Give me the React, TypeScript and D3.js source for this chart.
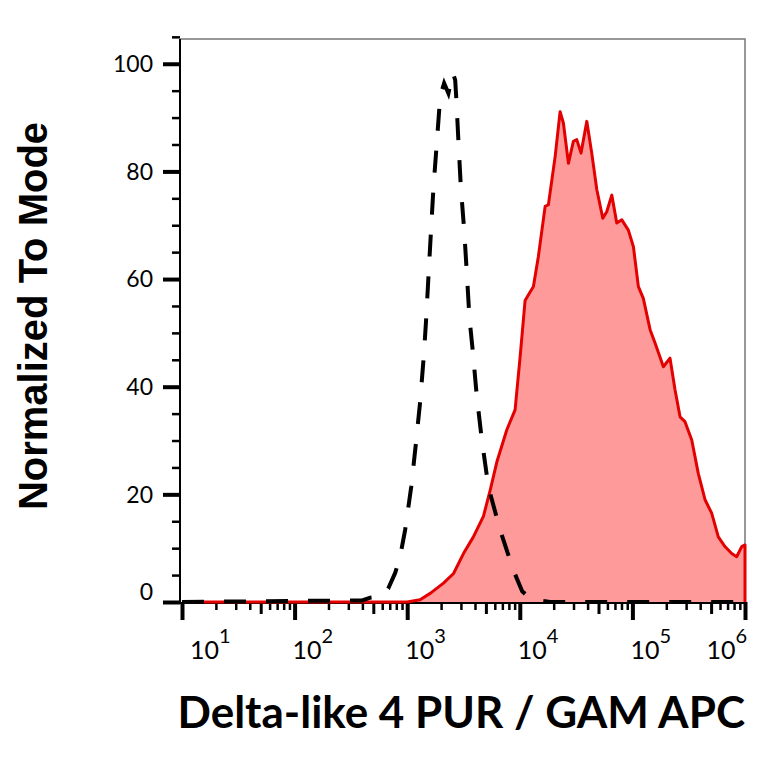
import { useEffect, useRef } from 'react'
import * as d3 from 'd3'

// Isotype control (dashed black), intensity vs % of mode
const isoIntensity = [10, 398, 469, 575, 678, 782, 867, 959, 1086, 1194, 1303, 1406, 1472, 1545, 1622, 1710, 1832, 1963, 2128, 2323, 2541, 2667, 2723, 2851, 2992, 3206, 3388, 3573, 3828, 4150, 4603, 5260, 6683, 8770, 10500, 12360, 16110, 18580, 1000000]
const isoCount = [0, 0.3, 0.8, 1.0, 2.5, 5.4, 8.5, 13.4, 21.4, 29.4, 37.2, 45.9, 52.4, 60.5, 68.5, 76.9, 85.3, 93.9, 96.4, 94.5, 98.3, 97, 93.9, 85.6, 77.2, 69.1, 61, 52.7, 46.5, 38.2, 30.1, 21.4, 13.4, 5.9, 2, 0.7, 0.2, 0, 0]

// Delta-like 4 stained sample (red filled)
const stainIntensity = [10, 1000, 1300, 1600, 2100, 2580, 3160, 3870, 4750, 5460, 6250, 7670, 9080, 10070, 11140, 13210, 14620, 16790, 17950, 20610, 22800, 24380, 27040, 29920, 32060, 34990, 39360, 43550, 48310, 54580, 59160, 65610, 72610, 80540, 92040, 102100, 113000, 125000, 143600, 158900, 188400, 215800, 239300, 264900, 293100, 336500, 384600, 441600, 505800, 579400, 663700, 762100, 843300, 935400, 1000000, 1000000]
const stainCount = [0, 0, 0.4, 1.6, 3.5, 5.3, 9, 12.1, 15.9, 20.8, 26, 32, 35.7, 45.6, 56, 58.6, 64.2, 73.5, 73.8, 82.8, 91.1, 89, 81.5, 85.6, 85.9, 83.4, 89.3, 83.4, 76.6, 71.3, 72.5, 75.6, 70.4, 71, 69.1, 66, 58.6, 56.4, 50.6, 48.1, 43.7, 45.3, 39.4, 34.4, 33.5, 30.1, 23.9, 19, 16.5, 12.1, 10.3, 9, 8.4, 10.3, 10.6, 0]

const yTicks = [0, 20, 40, 60, 80, 100]
const xDecades = [1, 2, 3, 4, 5, 6]
const xTitle = 'Delta-like 4 PUR / GAM APC'
const yTitle = 'Normalized To Mode'

export default function App() {
  const svgRef = useRef<SVGSVGElement>(null)

  useEffect(() => {
    if (!svgRef.current) return
    document.body.style.margin = '0'

    const svg = d3.select(svgRef.current)
    svg.selectAll('*').remove()

    const left = 180, right = 745, top = 39, bottom = 602

    const x = d3.scaleLog().domain([10, 1e6]).range([left + 2, right])
    const y = d3.scaleLinear().domain([0, 104.6]).range([bottom, top])

    // Y axis ticks
    const yMinor = d3.range(5, 106, 5).filter(v => v % 20 !== 0)
    svg.append('g')
      .attr('transform', `translate(${left},0)`)
      .call(d3.axisLeft(y).tickValues(yMinor).tickSize(8).tickFormat(() => ''))
      .call(g => g.select('.domain').remove())
      .call(g => g.selectAll('line').attr('stroke', '#000').attr('stroke-width', 2.5))

    const yMajor = svg.append('g')
      .attr('transform', `translate(${left},0)`)
      .call(d3.axisLeft(y).tickValues(yTicks).tickSize(17).tickPadding(10))
      .call(g => g.select('.domain').remove())
    yMajor.selectAll('line').attr('stroke', '#000').attr('stroke-width', 4)
    yMajor.selectAll('text')
      .attr('fill', '#000')
      .style('font-family', 'Lato, sans-serif')
      .style('font-size', '23px')
      .attr('dy', (d: any) => d === 0 ? '-0.12em' : '0.34em')

    // X axis ticks (log decades with minor ticks)
    const xMinor: number[] = []
    const xMid: number[] = []
    xDecades.slice(0, -1).forEach(d => {
      for (let k = 2; k <= 9; k++) (k === 5 ? xMid : xMinor).push(k * 10 ** d)
    })
    const xTickGroup = (vals: number[], size: number, w: number) =>
      svg.append('g')
        .attr('transform', `translate(0,${bottom})`)
        .call(d3.axisBottom(x).tickValues(vals).tickSize(size).tickFormat(() => ''))
        .call(g => g.select('.domain').remove())
        .call(g => g.selectAll('line').attr('stroke', '#000').attr('stroke-width', w))
    xTickGroup(xMinor, 8, 2.5)
    xTickGroup(xMid, 12, 3)
    xTickGroup(xDecades.map(d => 10 ** d), 18, 4)

    const xLabels = svg.append('g')
      .style('font-family', 'Lato, sans-serif')
      .attr('fill', '#000')
    xDecades.forEach((d, i) => {
      const last = i === xDecades.length - 1
      const px = x(10 ** d) + (i === 0 ? 8 : last ? 2 : -2)
      const t = xLabels.append('text')
        .attr('x', px)
        .attr('y', 659)
        .attr('text-anchor', last ? 'end' : 'start')
      t.append('tspan').style('font-size', '25px').text('10')
      t.append('tspan').style('font-size', '20px').attr('dy', -16).text(d)
    })

    // frame
    svg.append('path')
      .attr('d', `M${left},${top}H${right}V${bottom}`)
      .attr('fill', 'none')
      .attr('stroke', '#777')
      .attr('stroke-width', 1.5)
    svg.append('line')
      .attr('x1', left).attr('x2', left).attr('y1', top).attr('y2', bottom + 1)
      .attr('stroke', '#000').attr('stroke-width', 2)
    svg.append('line')
      .attr('x1', left - 17).attr('x2', right).attr('y1', bottom + 1).attr('y2', bottom + 1)
      .attr('stroke', '#000').attr('stroke-width', 2)

    // stained sample
    const stain = stainIntensity.map((v, i) => [v, stainCount[i]] as [number, number])
    svg.append('path')
      .datum(stain)
      .attr('fill', '#ff9a9a')
      .attr('d', d3.area<[number, number]>().x(d => x(d[0])).y0(y(0)).y1(d => y(d[1])))
    svg.append('path')
      .datum(stain)
      .attr('fill', 'none')
      .attr('stroke', '#e30000')
      .attr('stroke-width', 3)
      .attr('stroke-linejoin', 'round')
      .attr('d', d3.line<[number, number]>().x(d => x(d[0])).y(d => y(d[1])))

    // isotype control
    const iso = isoIntensity.map((v, i) => [v, isoCount[i]] as [number, number])
    svg.append('path')
      .datum(iso)
      .attr('fill', 'none')
      .attr('stroke', '#000')
      .attr('stroke-width', 4)
      .attr('stroke-dasharray', '22 20')
      .attr('d', d3.line<[number, number]>().x(d => x(d[0])).y(d => y(d[1])))

    // axis titles
    svg.append('text')
      .attr('x', right)
      .attr('y', 728)
      .attr('text-anchor', 'end')
      .style('font-family', 'Lato, sans-serif')
      .style('font-weight', 'bold')
      .style('font-size', '44px')
      .text(xTitle)

    svg.append('text')
      .attr('transform', `translate(47,${(120 + 512) / 2}) rotate(-90)`)
      .attr('text-anchor', 'middle')
      .style('font-family', '"Liberation Sans", Arial, sans-serif')
      .style('font-weight', 'bold')
      .style('font-size', '40px')
      .text(yTitle)
  }, [])

  return <svg ref={svgRef} width={764} height={764} style={{ display: 'block', background: '#fff' }} />
}
